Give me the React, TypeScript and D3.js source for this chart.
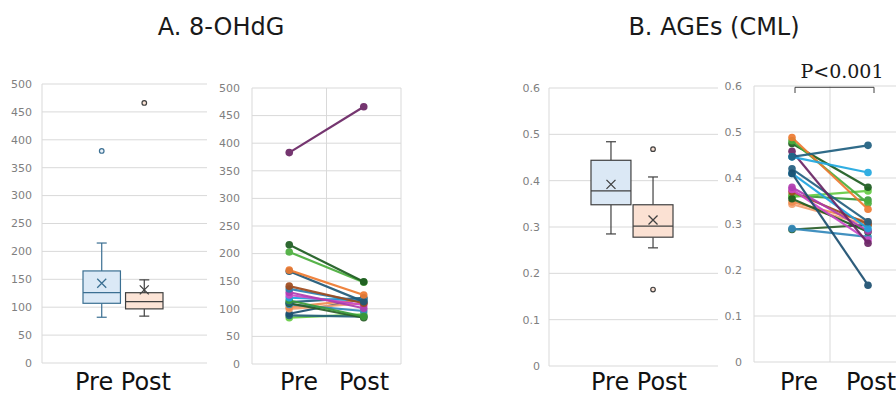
import React from "react";
import * as d3 from "d3";

// ---------- DATA ----------
const groups = ["Pre", "Post"];

// A. 8-OHdG box summaries
const aBoxMin = [82, 84];
const aBoxQ1 = [107, 97];
const aBoxMedian = [126, 110];
const aBoxQ3 = [165, 126];
const aBoxMax = [215, 149];
const aBoxMean = [143, 131];
const aBoxOutliers = [[380], [466]];
const aTicks = [0, 50, 100, 150, 200, 250, 300, 350, 400, 450, 500];

// A. 8-OHdG individual subjects
const aPre = [84, 88, 91, 100, 103, 108, 110, 112, 115, 120, 125, 130, 136, 141, 168, 170, 203, 216, 383];
const aPost = [90, 86, 118, 110, 117, 96, 84, 120, 86, 115, 107, 101, 112, 110, 113, 125, 148, 149, 466];
const aColors = [
  "#66cc44", "#24607a", "#1c4f70", "#f4a070", "#f08c50", "#3388bb", "#2a5e28", "#235f80", "#3a9c3a",
  "#1ea3e0", "#cc48c8", "#b03cb0", "#2a7fb0", "#a04a1c", "#1f5878", "#ee7a30", "#4aae3c", "#1d5c20", "#6a2564",
];

// B. AGEs (CML) box summaries
const bBoxMin = [0.285, 0.255];
const bBoxQ1 = [0.348, 0.278];
const bBoxMedian = [0.378, 0.302];
const bBoxQ3 = [0.444, 0.348];
const bBoxMax = [0.484, 0.408];
const bBoxMean = [0.392, 0.315];
const bBoxOutliers = [[], [0.468, 0.165]];
const bTicks = [0, 0.1, 0.2, 0.3, 0.4, 0.5, 0.6];

// B. AGEs (CML) individual subjects
const bPre = [0.288, 0.290, 0.343, 0.348, 0.362, 0.359, 0.355, 0.370, 0.375, 0.380, 0.410, 0.420, 0.410, 0.458, 0.475, 0.481, 0.488, 0.446, 0.446];
const bPost = [0.298, 0.272, 0.298, 0.305, 0.352, 0.372, 0.283, 0.300, 0.265, 0.285, 0.290, 0.305, 0.167, 0.258, 0.380, 0.345, 0.332, 0.412, 0.471];
const bColors = [
  "#2a5e28", "#3388bb", "#f4a070", "#f08c50", "#3a9c3a", "#66cc44", "#1d5c20", "#a04a1c", "#cc48c8",
  "#b03cb0", "#1ea3e0", "#235f80", "#1c4f70", "#6a2564", "#1d5c20", "#4aae3c", "#ee7a30", "#20a8e0", "#1f5f80",
];

// ---------- STYLE ----------
const GRID = "#d9d9d9";
const TICK = "#7f7f7f";
const SANS = "'DejaVu Sans', Verdana, sans-serif";
const LABEL_Y = 390;

type BoxProps = {
  x0: number; x1: number; yTop: number; yBottom: number; labelRight: number;
  boxRange: [number, number]; pad: number;
  ticks: number[]; fmt: (v: number) => string;
  min: number[]; q1: number[]; med: number[]; q3: number[]; max: number[]; mean: number[]; outliers: number[][];
  fills: string[]; strokes: string[]; outlierFills: string[];
  labelX: number;
};

function BoxPanel(p: BoxProps) {
  const y = d3.scaleLinear().domain([d3.min(p.ticks)!, d3.max(p.ticks)!]).range([p.yBottom, p.yTop]);
  const xb = d3.scaleBand<string>().domain(groups).range(p.boxRange).paddingInner(p.pad);
  const bw = xb.bandwidth();
  return (
    <g>
      {p.ticks.map((t) => (
        <g key={t}>
          <line x1={p.x0} x2={p.x1} y1={y(t)} y2={y(t)} stroke={GRID} strokeWidth={1} />
          <text x={p.labelRight} y={y(t)} dy="0.35em" textAnchor="end" fontSize={11} fill={TICK} fontFamily={SANS}>
            {p.fmt(t)}
          </text>
        </g>
      ))}
      <line x1={p.x0} x2={p.x0} y1={y(d3.max(p.ticks)!)} y2={y(0)} stroke={GRID} />
      {groups.map((g, i) => {
        const cx = xb(g)! + bw / 2;
        const s = p.strokes[i];
        return (
          <g key={g}>
            <line x1={cx} x2={cx} y1={y(p.q3[i])} y2={y(p.max[i])} stroke={s} strokeWidth={1.2} />
            <line x1={cx} x2={cx} y1={y(p.q1[i])} y2={y(p.min[i])} stroke={s} strokeWidth={1.2} />
            <line x1={cx - 5} x2={cx + 5} y1={y(p.max[i])} y2={y(p.max[i])} stroke={s} strokeWidth={1.2} />
            <line x1={cx - 5} x2={cx + 5} y1={y(p.min[i])} y2={y(p.min[i])} stroke={s} strokeWidth={1.2} />
            <rect x={xb(g)!} y={y(p.q3[i])} width={bw} height={y(p.q1[i]) - y(p.q3[i])} fill={p.fills[i]} stroke={s} strokeWidth={1.2} />
            <line x1={xb(g)!} x2={xb(g)! + bw} y1={y(p.med[i])} y2={y(p.med[i])} stroke={s} strokeWidth={1.2} />
            <path
              d={`M${cx - 4.5},${y(p.mean[i]) - 4.5}L${cx + 4.5},${y(p.mean[i]) + 4.5}M${cx - 4.5},${y(p.mean[i]) + 4.5}L${cx + 4.5},${y(p.mean[i]) - 4.5}`}
              stroke={s} strokeWidth={1.3} fill="none"
            />
            {p.outliers[i].map((o, k) => (
              <circle key={k} cx={cx} cy={y(o)} r={2.3} fill={p.outlierFills[i]} stroke={s} strokeWidth={1.2} />
            ))}
          </g>
        );
      })}
      <text x={p.labelX} y={LABEL_Y} textAnchor="middle" fontSize={24} fill="#111" fontFamily={SANS}>
        Pre Post
      </text>
    </g>
  );
}

type LineProps = {
  x0: number; x1: number; yTop: number; yBottom: number; labelRight: number;
  ticks: number[]; fmt: (v: number) => string;
  pre: number[]; post: number[]; colors: string[];
  preLabelX: number; postLabelX: number;
};

function LinePanel(p: LineProps) {
  const y = d3.scaleLinear().domain([d3.min(p.ticks)!, d3.max(p.ticks)!]).range([p.yBottom, p.yTop]);
  const x = d3.scaleBand<string>().domain(groups).range([p.x0, p.x1]);
  const line = d3.line<[string, number]>().x((d) => x(d[0])! + x.bandwidth() / 2).y((d) => y(d[1]));
  const edges = [p.x0, p.x0 + x.step(), p.x0 + 2 * x.step()];
  return (
    <g>
      {p.ticks.map((t) => (
        <g key={t}>
          <line x1={p.x0} x2={p.x1} y1={y(t)} y2={y(t)} stroke={GRID} strokeWidth={1} />
          <text x={p.labelRight} y={y(t)} dy="0.35em" textAnchor="end" fontSize={11} fill={TICK} fontFamily={SANS}>
            {p.fmt(t)}
          </text>
        </g>
      ))}
      {edges.map((ex, i) => (
        <line key={i} x1={ex} x2={ex} y1={y(d3.max(p.ticks)!)} y2={y(0)} stroke={GRID} />
      ))}
      {p.pre.map((v, i) => {
        const pts: [string, number][] = [["Pre", v], ["Post", p.post[i]]];
        return (
          <g key={i} opacity={0.92}>
            <path d={line(pts)!} stroke={p.colors[i]} strokeWidth={2.2} fill="none" />
            {pts.map((d, k) => (
              <circle key={k} cx={x(d[0])! + x.bandwidth() / 2} cy={y(d[1])} r={3.8} fill={p.colors[i]} />
            ))}
          </g>
        );
      })}
      <text x={p.preLabelX} y={LABEL_Y} textAnchor="middle" fontSize={24} fill="#111" fontFamily={SANS}>Pre</text>
      <text x={p.postLabelX} y={LABEL_Y} textAnchor="middle" fontSize={24} fill="#111" fontFamily={SANS}>Post</text>
    </g>
  );
}

export default function App() {
  const fmtInt = (v: number) => d3.format("d")(v);
  const fmtDec = (v: number) => (v === 0 ? "0" : d3.format(".1f")(v));
  return (
    <svg width={896} height={396} style={{ position: "absolute", left: 0, top: 0, background: "#fff" }}>
      <rect width={896} height={396} fill="#fff" />
      <text x={221} y={35} textAnchor="middle" fontSize={24} fill="#1a1a1a" fontFamily={SANS}>A. 8-OHdG</text>
      <text x={714} y={35} textAnchor="middle" fontSize={24} fill="#1a1a1a" fontFamily={SANS}>B. AGEs (CML)</text>

      <BoxPanel
        x0={42} x1={207} yTop={84} yBottom={363} labelRight={32}
        boxRange={[83, 163]} pad={0.12}
        ticks={aTicks} fmt={fmtInt}
        min={aBoxMin} q1={aBoxQ1} med={aBoxMedian} q3={aBoxQ3} max={aBoxMax} mean={aBoxMean} outliers={aBoxOutliers}
        fills={["#dbe9f6", "#fce4d6"]} strokes={["#3b6f92", "#404040"]} outlierFills={["#eaf2fa", "#fce4d6"]}
        labelX={123}
      />
      <LinePanel
        x0={252} x1={401} yTop={88} yBottom={364} labelRight={240}
        ticks={aTicks} fmt={fmtInt}
        pre={aPre} post={aPost} colors={aColors}
        preLabelX={299} postLabelX={364}
      />
      <BoxPanel
        x0={549} x1={718} yTop={88} yBottom={366} labelRight={540}
        boxRange={[591, 673]} pad={0.05}
        ticks={bTicks} fmt={fmtDec}
        min={bBoxMin} q1={bBoxQ1} med={bBoxMedian} q3={bBoxQ3} max={bBoxMax} mean={bBoxMean} outliers={bBoxOutliers}
        fills={["#dbe8f5", "#fbe1d3"]} strokes={["#404040", "#404040"]} outlierFills={["#fbe1d3", "#fbe1d3"]}
        labelX={639}
      />
      <LinePanel
        x0={754} x1={906} yTop={86} yBottom={362} labelRight={742}
        ticks={bTicks} fmt={fmtDec}
        pre={bPre} post={bPost} colors={bColors}
        preLabelX={799} postLabelX={871}
      />
      <path d="M795,93V87.3H874V93" stroke="#404040" strokeWidth={1} fill="none" />
      <text x={842} y={78} textAnchor="middle" fontSize={19} fill="#1a1a1a" fontFamily="'DejaVu Serif', serif">P&lt;0.001</text>
    </svg>
  );
}
